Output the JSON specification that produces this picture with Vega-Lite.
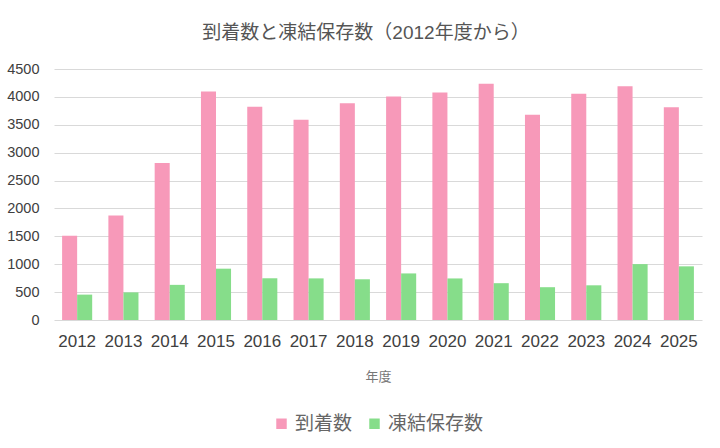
{
  "$schema": "https://vega.github.io/schema/vega-lite/v6.json",
  "autosize": "none",
  "width": 648,
  "height": 251,
  "padding": {"left": 54, "top": 69, "right": 18, "bottom": 128},
  "background": "white",
  "title": {
    "text": "到着数と凍結保存数（2012年度から）",
    "font": "Liberation Sans, Noto Sans CJK JP",
    "fontSize": 19,
    "fontWeight": "normal",
    "color": "#555555",
    "anchor": "middle",
    "dx": -12,
    "offset": 18
  },
  "data": {
    "values": [
      {"year": "2012", "series": "到着数", "count": 1510},
      {"year": "2012", "series": "凍結保存数", "count": 455},
      {"year": "2013", "series": "到着数", "count": 1875},
      {"year": "2013", "series": "凍結保存数", "count": 495},
      {"year": "2014", "series": "到着数", "count": 2815},
      {"year": "2014", "series": "凍結保存数", "count": 630},
      {"year": "2015", "series": "到着数", "count": 4095},
      {"year": "2015", "series": "凍結保存数", "count": 920},
      {"year": "2016", "series": "到着数", "count": 3825},
      {"year": "2016", "series": "凍結保存数", "count": 748},
      {"year": "2017", "series": "到着数", "count": 3590},
      {"year": "2017", "series": "凍結保存数", "count": 746},
      {"year": "2018", "series": "到着数", "count": 3885},
      {"year": "2018", "series": "凍結保存数", "count": 730},
      {"year": "2019", "series": "到着数", "count": 4005},
      {"year": "2019", "series": "凍結保存数", "count": 835},
      {"year": "2020", "series": "到着数", "count": 4080},
      {"year": "2020", "series": "凍結保存数", "count": 745},
      {"year": "2021", "series": "到着数", "count": 4236},
      {"year": "2021", "series": "凍結保存数", "count": 660},
      {"year": "2022", "series": "到着数", "count": 3682},
      {"year": "2022", "series": "凍結保存数", "count": 588},
      {"year": "2023", "series": "到着数", "count": 4058},
      {"year": "2023", "series": "凍結保存数", "count": 622},
      {"year": "2024", "series": "到着数", "count": 4190},
      {"year": "2024", "series": "凍結保存数", "count": 1002},
      {"year": "2025", "series": "到着数", "count": 3815},
      {"year": "2025", "series": "凍結保存数", "count": 962}
    ]
  },
  "mark": {"type": "bar"},
  "encoding": {
    "x": {
      "field": "year",
      "type": "nominal",
      "scale": {"paddingInner": 0.35, "paddingOuter": 0.175},
      "axis": {
        "title": "年度",
        "titleFont": "Noto Sans CJK JP",
        "titleFontSize": 13,
        "titleFontWeight": "normal",
        "titleColor": "#777777",
        "titlePadding": 21,
        "labelFont": "Liberation Sans",
        "labelFontSize": 17,
        "labelColor": "#404040",
        "labelAngle": 0,
        "labelPadding": 13,
        "ticks": false,
        "domain": false
      }
    },
    "xOffset": {
      "field": "series",
      "type": "nominal",
      "sort": ["到着数", "凍結保存数"],
      "scale": {"paddingInner": 0, "paddingOuter": 0}
    },
    "y": {
      "field": "count",
      "type": "quantitative",
      "scale": {"domain": [0, 4500], "nice": false},
      "axis": {
        "title": null,
        "values": [0, 500, 1000, 1500, 2000, 2500, 3000, 3500, 4000, 4500],
        "format": "d",
        "labelFont": "Liberation Sans",
        "labelFontSize": 14.5,
        "labelColor": "#404040",
        "labelPadding": 15,
        "ticks": false,
        "domain": false,
        "gridColor": "#d9d9d9",
        "gridWidth": 1
      }
    },
    "color": {
      "field": "series",
      "type": "nominal",
      "sort": ["到着数", "凍結保存数"],
      "scale": {"domain": ["到着数", "凍結保存数"], "range": ["#f799b9", "#86dd8a"]},
      "legend": {
        "title": null,
        "orient": "bottom",
        "direction": "horizontal",
        "symbolType": "square",
        "symbolSize": 110,
        "symbolStrokeWidth": 0,
        "labelFont": "Noto Sans CJK JP",
        "labelFontSize": 19,
        "labelColor": "#666666",
        "labelOffset": 4,
        "columnPadding": 12,
        "offset": 31
      }
    }
  },
  "config": {
    "view": {"stroke": null},
    "legend": {"layout": {"bottom": {"anchor": "middle"}}}
  }
}
